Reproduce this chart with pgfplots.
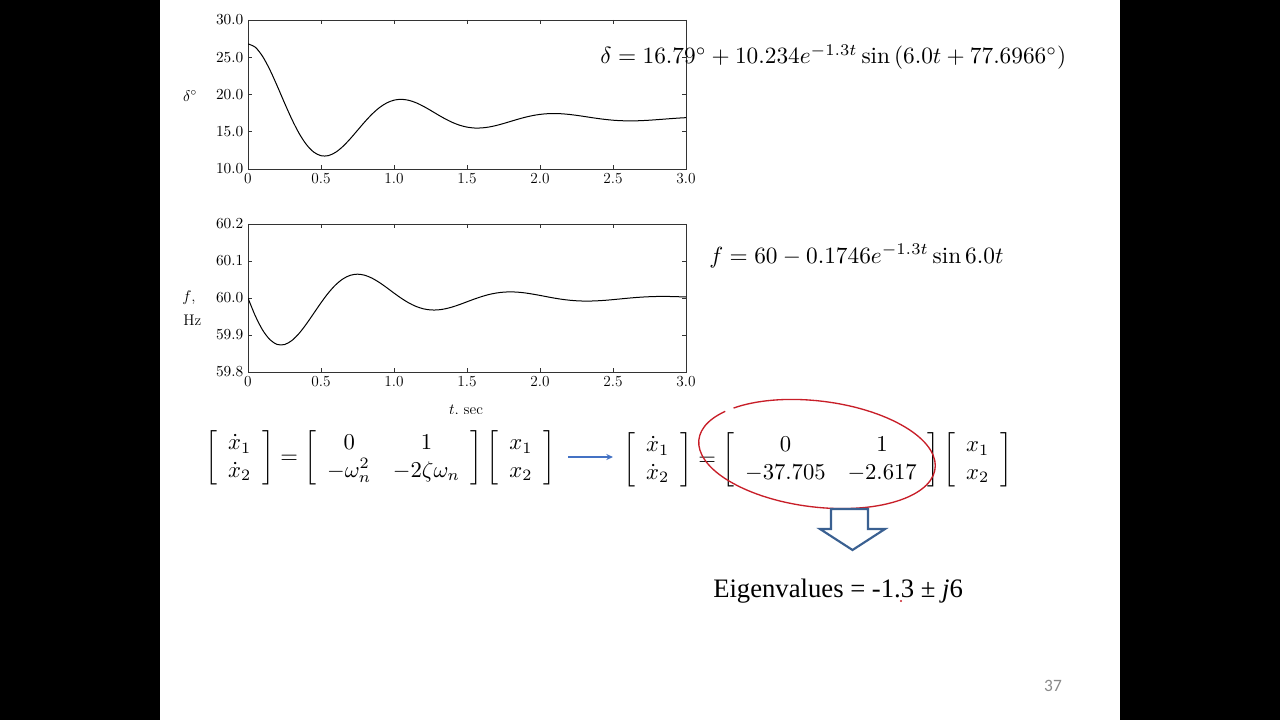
\RequirePackage{fix-cm}
\documentclass[border=0pt]{standalone}
\usepackage{fontspec}
\newfontfamily\timesf{Liberation Serif}
\newfontfamily\calib{Carlito}
\usepackage{pgfplots}
\pgfplotsset{compat=1.18}
\usetikzlibrary{arrows.meta}
\definecolor{arrblue}{RGB}{68,114,196}
\definecolor{darkblue}{RGB}{58,96,145}
\definecolor{penred}{RGB}{200,30,40}
\definecolor{pagegray}{RGB}{137,137,137}
\pgfplotsset{
  slideaxis/.style={
    anchor=south west, scale only axis, width=328.5pt,
    xmin=0, xmax=3,
    xtick={0,0.5,1,1.5,2,2.5,3},
    xticklabels={0,0.5,1.0,1.5,2.0,2.5,3.0},
    yticklabel style={/pgf/number format/fixed,/pgf/number format/fixed zerofill,/pgf/number format/precision=1},
    tick align=inside, major tick length=3pt,
    tick style={black!80, line width=0.5pt},
    axis line style={black!80, line width=0.6pt},
    ticklabel style={font=\fontsize{11.5}{13}\selectfont},
  }
}
\begin{document}
\begin{tikzpicture}
\begin{scope}[x=0.75pt,y=-0.75pt]
\useasboundingbox (0,0) rectangle (1280,720);
\fill[black] (0,0) rectangle (1280,720);
\fill[white] (160,0) rectangle (1120,720);
\end{scope}

\begin{axis}[slideaxis, at={(186pt,-126.75pt)}, height=111.75pt,
  ymin=10, ymax=30, ytick={10,15,20,25,30}]
\addplot[black, line width=0.75pt, smooth] table {
0 26.789
0.05 26.345
0.10 25.118
0.15 23.310
0.20 21.151
0.25 18.873
0.30 16.690
0.35 14.782
0.40 13.282
0.45 12.272
0.50 11.782
0.55 11.792
0.60 12.237
0.65 13.028
0.70 14.052
0.75 15.191
0.80 16.331
0.85 17.373
0.90 18.237
0.95 18.868
1.00 19.240
1.05 19.353
1.10 19.226
1.15 18.902
1.20 18.432
1.25 17.875
1.30 17.291
1.35 16.735
1.40 16.251
1.45 15.873
1.50 15.622
1.55 15.503
1.60 15.512
1.65 15.632
1.70 15.839
1.75 16.104
1.80 16.397
1.85 16.688
1.90 16.953
1.95 17.172
2.00 17.330
2.05 17.421
2.10 17.447
2.15 17.411
2.20 17.325
2.25 17.203
2.30 17.060
2.35 16.910
2.40 16.768
2.45 16.646
2.50 16.550
2.55 16.488
2.60 16.460
2.65 16.464
2.70 16.496
2.75 16.550
2.80 16.619
2.85 16.694
2.90 16.768
2.95 16.835
3.00 16.891
};
\end{axis}

\begin{axis}[slideaxis, at={(186pt,-279pt)}, height=111pt,
  ymin=59.8, ymax=60.2, ytick={59.8,59.9,60.0,60.1,60.2}]
\addplot[black, line width=0.75pt, smooth] table {
0 60.0000
0.05 59.9517
0.10 59.9134
0.15 59.8875
0.20 59.8745
0.25 59.8742
0.30 59.8849
0.35 59.9044
0.40 59.9299
0.45 59.9584
0.50 59.9871
0.55 60.0135
0.60 60.0354
0.65 60.0516
0.70 60.0613
0.75 60.0644
0.80 60.0615
0.85 60.0535
0.90 60.0419
0.95 60.0280
1.00 60.0133
1.05 59.9993
1.10 59.9870
1.15 59.9774
1.20 59.9709
1.25 59.9678
1.30 59.9678
1.35 59.9707
1.40 59.9758
1.45 59.9824
1.50 59.9898
1.55 59.9971
1.60 60.0038
1.65 60.0094
1.70 60.0134
1.75 60.0158
1.80 60.0165
1.85 60.0157
1.90 60.0136
1.95 60.0105
2.00 60.0070
2.05 60.0032
2.10 59.9996
2.15 59.9965
2.20 59.9941
2.25 59.9925
2.30 59.9917
2.35 59.9918
2.40 59.9926
2.45 59.9939
2.50 59.9956
2.55 59.9975
2.60 59.9994
2.65 60.0011
2.70 60.0025
2.75 60.0035
2.80 60.0041
2.85 60.0042
2.90 60.0040
2.95 60.0034
3.00 60.0027
};
\end{axis}

\begin{scope}[x=0.75pt,y=-0.75pt]
% axis labels
\node[font=\fontsize{11.5}{13}\selectfont] at (190,96) {$\delta^\circ$};
\node[font=\fontsize{11.5}{13}\selectfont, anchor=west, inner sep=0pt] at (182,298) {$f$,};
\node[font=\fontsize{11.5}{13}\selectfont, anchor=west, inner sep=0pt] at (183,320) {Hz};
\node[font=\fontsize{11.5}{13}\selectfont, inner sep=0pt] at (466,411) {$t$, sec};
\fill[white] (430,413.5) rectangle (505,421);
% equations
\node[anchor=west, inner sep=0pt] at (600,57)
  {\scalebox{1.75}{$\delta = 16.79^\circ + 10.234e^{-1.3t}\sin\left(6.0t + 77.6966^\circ\right)$}};
\node[anchor=west, inner sep=0pt] at (709,256)
  {\scalebox{1.75}{$f = 60 - 0.1746e^{-1.3t}\sin 6.0t$}};
\node[anchor=west, inner sep=0pt] at (205,458)
  {\scalebox{1.7}{\setlength{\arraycolsep}{4.8pt}$\left[\begin{array}{c}\dot{x}_1\\ \dot{x}_2\end{array}\right]=\left[\begin{array}{cc}0&1\\ -\omega_n^2&-2\zeta\omega_n\end{array}\right]\left[\begin{array}{c}x_1\\ x_2\end{array}\right]$}};
\draw[arrblue, line width=0.9pt, -{Stealth[length=5pt,width=4.5pt]}] (568,457) -- (613,457);
\node[anchor=west, inner sep=0pt] at (623,460)
  {\scalebox{1.7}{\setlength{\arraycolsep}{4.8pt}$\left[\begin{array}{c}\dot{x}_1\\ \dot{x}_2\end{array}\right]=\left[\begin{array}{cc}0&1\\ -37.705&-2.617\end{array}\right]\left[\begin{array}{c}x_1\\ x_2\end{array}\right]$}};
% red ellipse
\draw[penred, line width=1pt, rotate around={-7:(817,454)}]
  (817,454) ++(222:119 and 53) arc[start angle=222, end angle=576, x radius=119, y radius=53];
% hollow arrow
\draw[darkblue, line width=1.6pt, fill=white, line join=miter]
  (831,509) -- (868,509) -- (868,529) -- (885,529) -- (852.5,550) -- (820,529) -- (831,529) -- cycle;
% eigenvalues
\node[anchor=base west, inner sep=0pt, font=\timesf\fontsize{20}{24}\selectfont] at (713,597)
  {Eigenvalues = -1.3 ± \textit{j}6};
\fill[penred] (901,601) circle[radius=1.1];
% page number
\node[font=\calib\fontsize{13}{15}\selectfont, text=pagegray] at (1053,686) {37};
\end{scope}
\end{tikzpicture}
\end{document}
